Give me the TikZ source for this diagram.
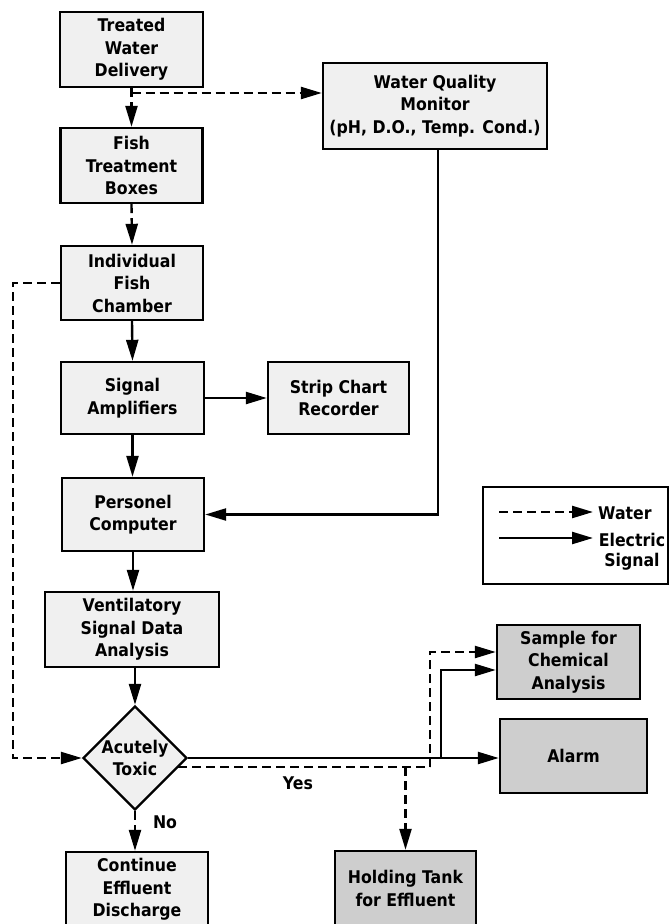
\documentclass[tikz,border=0pt]{standalone}
\usepackage{fontspec}
\setmainfont{DejaVu Sans}[FakeStretch=0.9]
\usetikzlibrary{arrows.meta,shapes.geometric,calc}
\definecolor{lightbox}{RGB}{240,240,240}
\definecolor{darkbox}{RGB}{206,206,206}
\begin{document}
\begin{tikzpicture}[x=1pt,y=-1pt,
  every node/.style={font=\fontsize{17.5}{22.5}\selectfont\bfseries},
  box/.style={draw, line width=2.4pt, fill=lightbox, align=center, inner sep=0pt},
  dbox/.style={box, fill=darkbox},
  elec/.style={line width=2.4pt, -{Triangle[length=21pt,width=12pt]}},
  water/.style={elec, dash pattern=on 9pt off 5pt},
  wline/.style={line width=2.4pt, dash pattern=on 9pt off 5pt}]
\useasboundingbox (0,0) rectangle (670,924);
% boxes
\node[box, minimum width=143pt, minimum height=75pt] (twd) at (131.5,49.5) {Treated\\Water\\Delivery};
\node[box, minimum width=142pt, minimum height=75pt] (ftb) at (131.5,165.5) {Fish\\Treatment\\Boxes};
\node[box, minimum width=224pt, minimum height=86pt] (wqm) at (435,106) {Water Quality\\Monitor\\(pH, D.O., Temp. Cond.)};
\node[box, minimum width=142pt, minimum height=74pt] (ifc) at (132,283) {Individual\\Fish\\Chamber};
\node[box, minimum width=143pt, minimum height=72pt] (sa) at (132.5,398) {Signal\\Amplifiers};
\node[box, minimum width=141pt, minimum height=72pt] (scr) at (338.5,398) {Strip Chart\\Recorder};
\node[box, minimum width=142pt, minimum height=73pt] (pc) at (133,514.5) {Personel\\Computer};
\node[box, minimum width=174pt, minimum height=75pt] (vsda) at (132,629.5) {Ventilatory\\Signal Data\\Analysis};
\node[box, diamond, minimum width=104pt, minimum height=104pt] (dia) at (135,758) {Acutely\\Toxic};
\node[box, minimum width=142pt, minimum height=75pt] (ced) at (137,889.5) {Continue\\Effluent\\Discharge};
\node[dbox, minimum width=141pt, minimum height=75pt] (hold) at (405.5,888.5) {Holding Tank\\for Effluent};
\node[dbox, minimum width=143pt, minimum height=74pt] (sample) at (568.5,662) {Sample for\\Chemical\\Analysis};
\node[dbox, minimum width=147pt, minimum height=74pt] (alarm) at (573.5,756) {Alarm};
% connectors
\coordinate (split) at (131.5,93);
\draw[water] (twd.south) -- (ftb.north);
\draw[water] (split) -- (split -| wqm.west);
\draw[water] (ftb.south) -- (ifc.north);
\draw[elec] (ifc.south) -- (sa.north);
\draw[elec] (sa.east) -- (scr.west);
\draw[elec] (sa.south) -- (sa.south |- pc.north);
\draw[elec] ($(wqm.south)+(3,0)$) |- (pc.east);
\draw[elec] (pc.south) -- (pc.south |- vsda.north);
\draw[elec] (dia.north |- vsda.south) -- (dia.north);
\coordinate (lft) at (13,283);
\draw[water] (ifc.west) -- (lft) |- (dia.west);
\draw[water] (dia.south) -- (dia.south |- ced.north);
\draw[elec] (dia.east) -- (dia.east -| alarm.west);
\coordinate (br) at (441,758);
\draw[elec] (br) |- ($(sample.west)+(0,8)$);
\coordinate (wd) at (178,767);
\coordinate (wc) at (430,767);
\draw[wline] (wd) -- (wc);
\draw[water] (wc) |- ($(sample.west)+(0,-10)$);
\draw[water] (hold.north |- wd) -- (hold.north);
% labels
\node (yes) at (298,783) {Yes};
\node (no) at (165,822) {No};
% legend
\node[draw, line width=2.4pt, minimum width=185pt, minimum height=97pt, inner sep=0pt] (leg) at (575.5,535.5) {};
\node[anchor=west, inner sep=0pt] (lw) at (598,513) {Water};
\node[align=center, inner sep=0pt, font=\fontsize{17.5}{20}\selectfont\bfseries] (le) at (632,552) {Electric\\Signal};
\coordinate (lw0) at (499,512);
\coordinate (lw1) at (593,512);
\coordinate (le0) at (499,538);
\coordinate (le1) at (593,538);
\draw[water] (lw0) -- (lw1);
\draw[elec] (le0) -- (le1);
\end{tikzpicture}
\end{document}
